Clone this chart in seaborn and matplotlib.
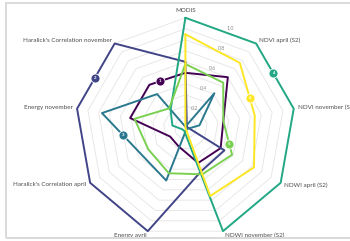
import matplotlib

matplotlib.use("Agg")
import matplotlib.pyplot as plt
import numpy as np
import pandas as pd
import seaborn as sns
from matplotlib.patches import Rectangle

# axes of the radar, clockwise from the top
axis_labels = [
    "MODIS",
    "NDVI april (S2)",
    "NDVI november (S2)",
    "NDWI april (S2)",
    "NDWI november (S2)",
    "Energy avril",
    "Haralick's Correlation april",
    "Energy november",
    "Haralick's Correlation november",
]

group_names = ["1", "2", "3", "4", "5", "6"]
group_1 = [0.50, 0.60, 0.35, 0.37, 0.34, 0.18, 0.16, 0.51, 0.51]
group_2 = [0.60, 0.02, 0.02, 0.41, 0.42, 1.00, 1.00, 1.00, 1.00]
group_3 = [0.01, 0.41, 0.13, 0.02, 0.02, 0.51, 0.47, 0.77, 0.40]
group_4 = [1.00, 1.00, 1.00, 1.00, 1.00, 0.03, 0.03, 0.12, 0.21]
group_5 = [0.58, 0.535, 0.35, 0.49, 0.45, 0.44, 0.39, 0.47, 0.23]
group_6 = [0.85, 0.77, 0.64, 0.72, 0.66, 0.00, 0.00, 0.00, 0.00]

# where each numbered badge sits: (segment start axis, fraction along segment)
badge_segments = [(8, 0.29), (7, 0.47), (6, 0.46), (1, 0.45), (2, 0.68), (1, 0.66)]

tick_values = [0.2, 0.4, 0.6, 0.8, 1.0]
tick_labels = ["0,2", "0,4", "0,6", "0,8", "1,0"]
grid_levels = [0.1, 0.2, 0.3, 0.4, 0.5, 0.6, 0.7, 0.8, 0.9, 1.0]


def to_xy(theta, r):
    # clockwise from top
    return r * np.sin(theta), r * np.cos(theta)


def main() -> None:
    sns.set_theme(style="white")
    plt.rcParams["font.family"] = ["Lato", "DejaVu Sans"]

    groups = [group_1, group_2, group_3, group_4, group_5, group_6]
    n = len(axis_labels)
    angles = np.arange(n) * 2 * np.pi / n
    colors = [tuple(c) for c in plt.cm.viridis(np.linspace(0, 1, len(groups)))]

    rows = []
    for name, values in zip(group_names, groups):
        for k in range(n):
            rows.append({"group": name, "theta": angles[k], "r": values[k]})
        rows.append({"group": name, "theta": 2 * np.pi, "r": values[0]})
    df = pd.DataFrame(rows)

    fig = plt.figure(figsize=(3.5, 2.41), dpi=100)
    fig.patch.set_facecolor("white")
    fig.add_artist(
        Rectangle((6 / 350, 3 / 241), 1.0, 235 / 241, transform=fig.transFigure,
                  fill=False, edgecolor="#d9d9d9", linewidth=1.4)
    )

    ax = fig.add_axes([0.2154, 0.0133, 0.6286, 0.9129], projection="polar")
    ax.set_theta_offset(np.pi / 2)
    ax.set_theta_direction(-1)
    ax.set_ylim(0, 1)
    ax.set_xticks([])
    ax.set_yticks([])
    ax.grid(False)
    ax.spines["polar"].set_visible(False)
    ax.set_facecolor("none")

    ring = np.append(angles, angles[0])
    for level in grid_levels:
        ax.plot(ring, [level] * len(ring), color="#e4e4e4", linewidth=0.6, zorder=1, clip_on=False)

    sns.lineplot(
        data=df, x="theta", y="r", hue="group", palette=colors, sort=False,
        estimator=None, linewidth=1.4, legend=False, ax=ax, zorder=3,
    )
    for line in ax.lines:
        line.set_clip_on(False)
    ax.set_xlabel("")
    ax.set_ylabel("")

    for v, lab in zip(tick_values, tick_labels):
        ax.text(np.deg2rad(24), v, lab, fontsize=3.9, color="#8c8c8c", ha="center", va="center", zorder=2)

    for theta, lab in zip(angles, axis_labels):
        s = np.sin(theta)
        if s > 0.1:
            ha = "left"
        elif s < -0.1:
            ha = "right"
        else:
            ha = "center"
        va = "bottom" if np.cos(theta) > 0.95 else "center"
        ax.text(theta, 1.04, lab, fontsize=4.5, color="#4d4d4d", ha=ha, va=va, zorder=4)

    for name, values, color, (k, t) in zip(group_names, groups, colors, badge_segments):
        k2 = (k + 1) % n
        x1, y1 = to_xy(angles[k], values[k])
        x2, y2 = to_xy(angles[k2], values[k2])
        bx, by = x1 + t * (x2 - x1), y1 + t * (y2 - y1)
        bt, br = np.arctan2(bx, by), np.hypot(bx, by)
        ax.plot([bt], [br], marker="o", markersize=6.5, color=color,
                markeredgecolor="white", markeredgewidth=0.6, zorder=5, clip_on=False)
        ax.text(bt, br, name, fontsize=3.2, color="white", fontweight="bold",
                ha="center", va="center", zorder=6)

    fig.savefig("out.png", dpi=100)
    plt.close(fig)


if __name__ == "__main__":
    main()
